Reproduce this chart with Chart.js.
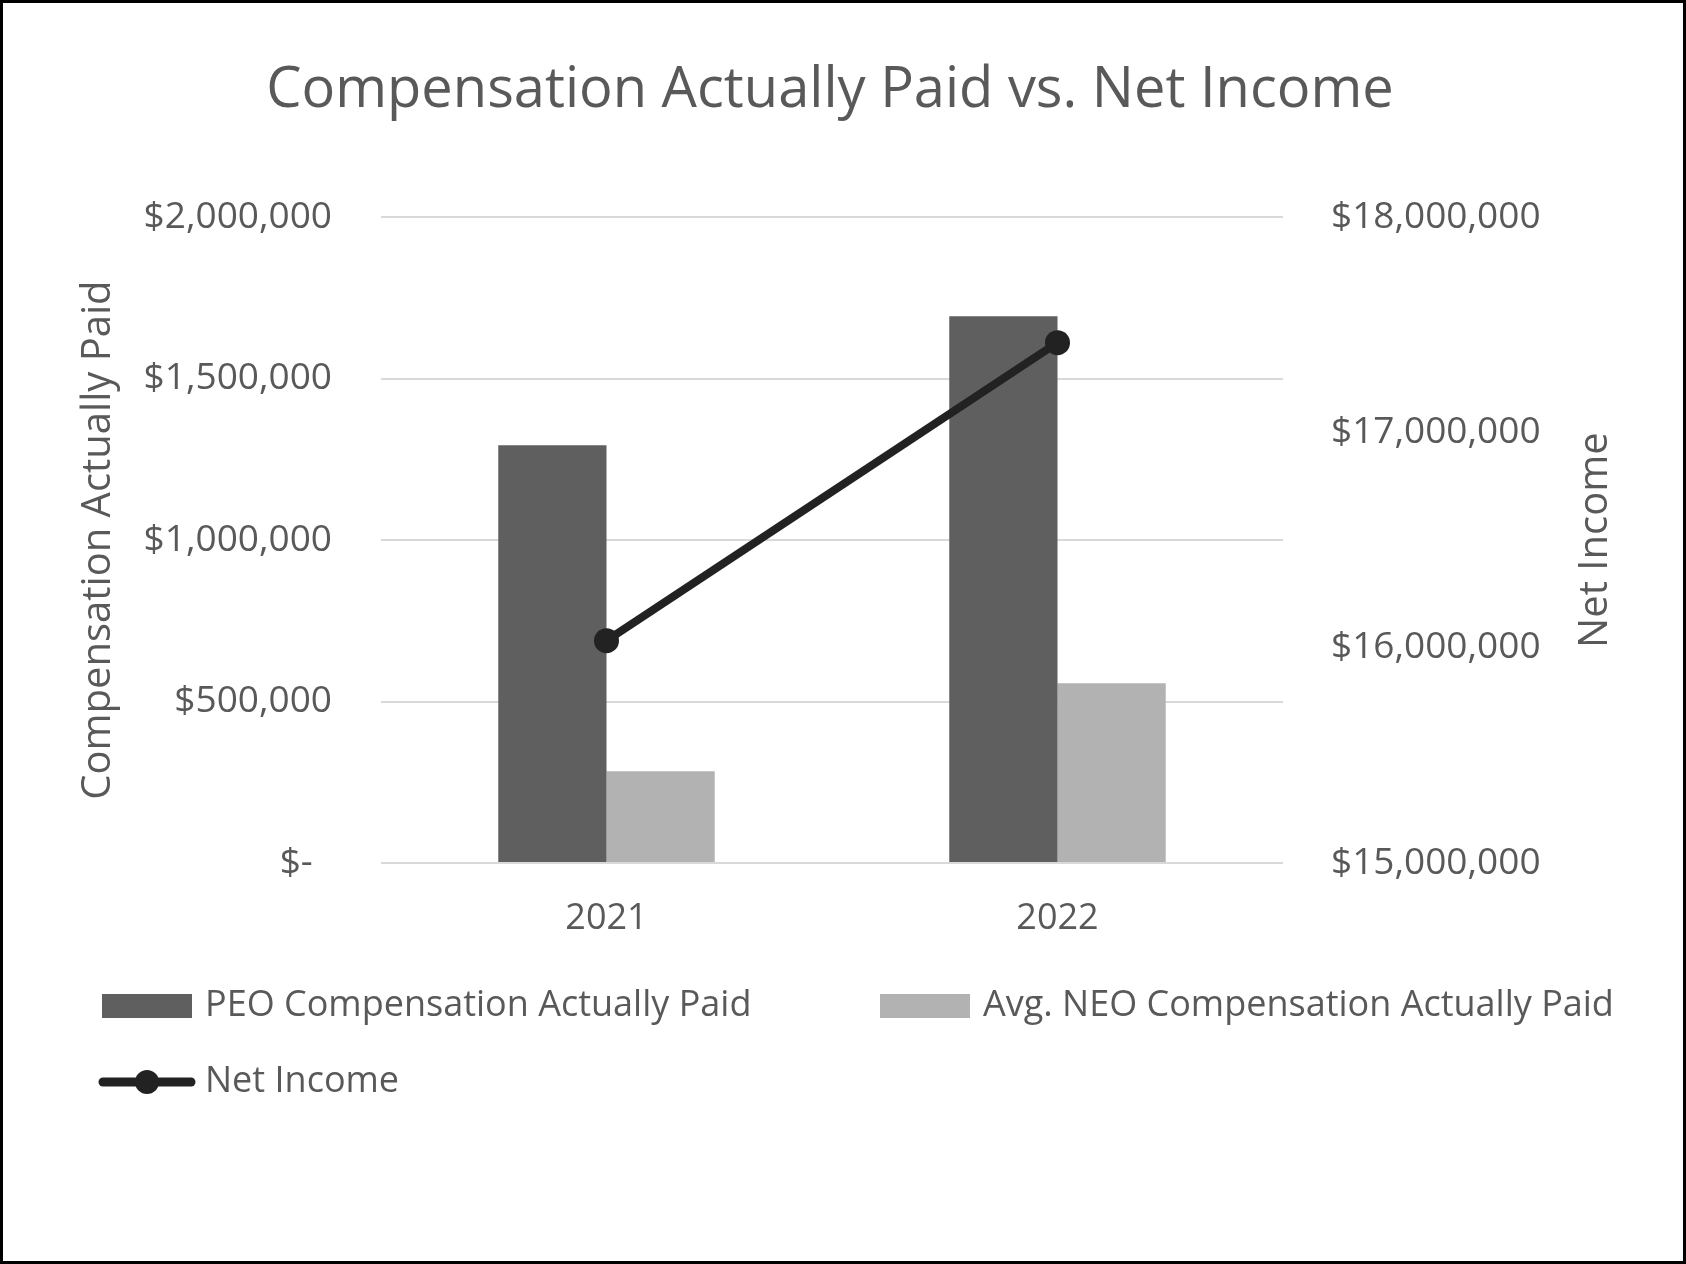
<!DOCTYPE html>
<html>
<head>
<meta charset="utf-8">
<script src="https://cdn.jsdelivr.net/npm/chart.js@4.4.0/dist/chart.umd.min.js"></script>
<style>
  body { margin: 0; background: #fff; }
  #wrap { width: 1686px; height: 1264px; box-sizing: border-box; border: 3px solid #000; background: #fff; }
</style>
</head>
<body>
<div id="wrap"><canvas id="chart"></canvas></div>
<script>
const years = ['2021', '2022'];
const peoPaid = [1294000, 1693000];
const neoPaid = [284000, 557000];
const netIncome = [16033000, 17417000];

const seriesNames = ['PEO Compensation Actually Paid', 'Avg. NEO Compensation Actually Paid', 'Net Income'];
const colors = ['#5f5f5f', '#b2b2b2', '#222222'];
const textColor = '#595959';

function boxSwatch(color) {
  const c = document.createElement('canvas');
  c.width = 90; c.height = 24;
  const g = c.getContext('2d');
  g.fillStyle = color;
  g.fillRect(0, 0, 90, 24);
  return c;
}

function lineSwatch(color) {
  const c = document.createElement('canvas');
  c.width = 98; c.height = 28;
  const g = c.getContext('2d');
  g.strokeStyle = color;
  g.lineWidth = 9;
  g.lineCap = 'round';
  g.beginPath();
  g.moveTo(5, 14); g.lineTo(93, 14);
  g.stroke();
  g.fillStyle = color;
  g.beginPath();
  g.arc(49, 14, 12, 0, Math.PI * 2);
  g.fill();
  return c;
}

const money = v => '$' + Number(v).toLocaleString('en-US');

// title sits over the plot area, not the whole canvas
const titleShift = {
  id: 'titleShift',
  afterLayout(c) {
    const t = c.titleBlock;
    const mid = (c.chartArea.left + c.chartArea.right) / 2 - 2;
    const half = (t.right - t.left) / 2;
    t.left = mid - half;
    t.right = mid + half;
  }
};

// right axis title reads bottom-to-top in the original
const rightTitle = {
  id: 'rightTitle',
  afterDraw(c) {
    const s = c.scales.y1;
    const g = c.ctx;
    g.save();
    g.translate(s.right - 67, (c.chartArea.top + c.chartArea.bottom) / 2);
    g.rotate(-Math.PI / 2);
    g.fillStyle = textColor;
    g.font = '40px "Open Sans"';
    g.textAlign = 'center';
    g.textBaseline = 'middle';
    g.fillText('Net Income', 0, 0);
    g.restore();
  }
};

function initChart() {
  const ctx = document.getElementById('chart').getContext('2d');
  const swatches = [boxSwatch(colors[0]), boxSwatch(colors[1]), lineSwatch(colors[2])];

  chart = new Chart(ctx, {
    type: 'bar',
    data: {
      labels: years,
      datasets: [{
        label: seriesNames[0],
        data: peoPaid,
        backgroundColor: colors[0],
        yAxisID: 'y',
        order: 1
      }, {
        label: seriesNames[1],
        data: neoPaid,
        backgroundColor: colors[1],
        yAxisID: 'y',
        order: 1
      }, {
        type: 'line',
        label: seriesNames[2],
        data: netIncome,
        borderColor: colors[2],
        backgroundColor: colors[2],
        borderWidth: 8,
        pointRadius: 12.5,
        pointBorderWidth: 0,
        pointBackgroundColor: colors[2],
        yAxisID: 'y1',
        order: 0
      }]
    },
    plugins: [titleShift, rightTitle],
    options: {
      responsive: true,
      maintainAspectRatio: false,
      animation: false,
      layout: {
        padding: { top: 10, left: 64, right: 20, bottom: 151 }
      },
      datasets: {
        bar: { categoryPercentage: 0.48, barPercentage: 1.0 }
      },
      plugins: {
        tooltip: { enabled: false },
        title: {
          display: true,
          text: 'Compensation Actually Paid vs. Net Income',
          color: textColor,
          font: { family: 'Open Sans', size: 56, weight: 'normal' },
          padding: { top: 44, bottom: 93 }
        },
        legend: {
          position: 'bottom',
          align: 'start',
          labels: {
            usePointStyle: true,
            pointStyleWidth: 80,
            padding: 40,
            color: textColor,
            font: { family: 'Open Sans', size: 36 },
            generateLabels: () => seriesNames.map((name, i) => ({
              text: i === 0 ? name + '          ' : name,
              fillStyle: colors[i],
              strokeStyle: colors[i],
              lineWidth: 0,
              pointStyle: swatches[i],
              fontColor: textColor,
              hidden: false,
              datasetIndex: i
            }))
          }
        }
      },
      scales: {
        x: {
          grid: { display: false },
          border: { display: false },
          ticks: {
            color: textColor,
            padding: 26,
            font: { family: 'Open Sans', size: 36 }
          },
          afterFit: s => { s.height = 85; }
        },
        y: {
          position: 'left',
          min: 0,
          max: 2000000,
          grid: { color: '#d9d9d9', lineWidth: 2, drawTicks: false },
          border: { display: false },
          ticks: {
            stepSize: 500000,
            padding: 49,
            color: textColor,
            font: { family: 'Open Sans', size: 37 },
            callback: v => v === 0 ? '$-  ' : money(v)
          },
          title: {
            display: true,
            text: 'Compensation Actually Paid',
            color: textColor,
            font: { family: 'Open Sans', size: 40 },
            padding: { top: 8, bottom: 0 }
          },
          afterFit: s => { s.width = 314; }
        },
        y1: {
          position: 'right',
          min: 15000000,
          max: 18000000,
          grid: { display: false, drawTicks: false },
          border: { display: false },
          ticks: {
            stepSize: 1000000,
            padding: 48,
            color: textColor,
            font: { family: 'Open Sans', size: 37 },
            callback: v => money(v)
          },
          afterFit: s => { s.width = 380; }
        }
      }
    }
  });
}

let chart = null;
initChart();
</script>
</body>
</html>
